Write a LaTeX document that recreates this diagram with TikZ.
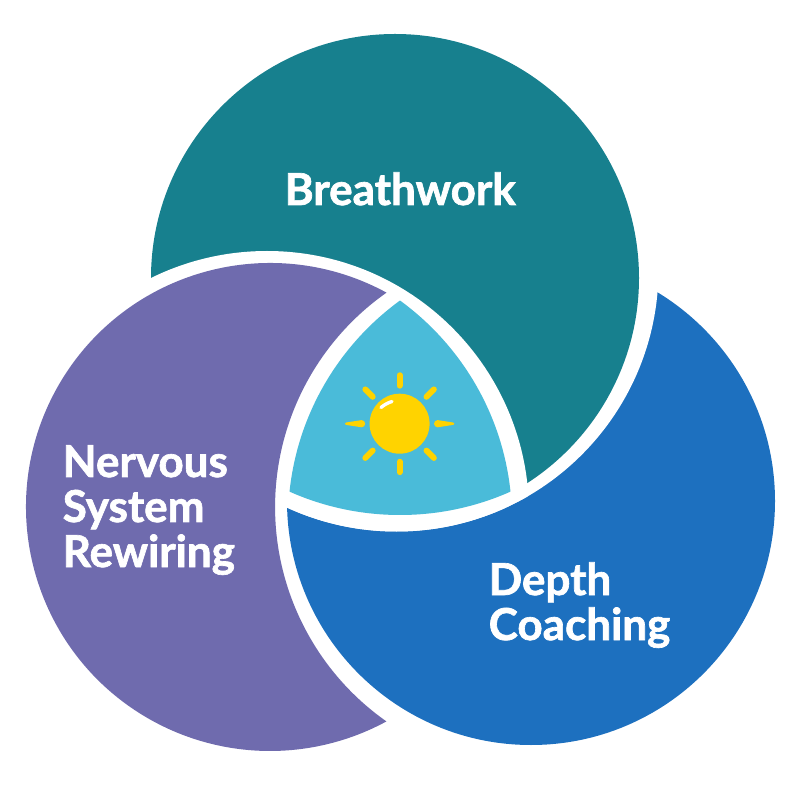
\documentclass[tikz,border=0pt]{standalone}
\usepackage{fontspec}
\setmainfont{Lato}[BoldFeatures={FakeBold=1.5}]
\usetikzlibrary{calc}
\definecolor{tealc}{HTML}{17808E}
\definecolor{purplec}{HTML}{6F6BAE}
\definecolor{bluec}{HTML}{1D70BF}
\definecolor{cyanc}{HTML}{4ABBD9}
\definecolor{sunc}{HTML}{FFD300}
\tikzset{
  circletext/.style = {text=white,font=\fontsize{33}{34}\selectfont\bfseries,inner sep=0pt,anchor=base west},
  sunray/.style = {draw=sunc,line width=4.4pt,line cap=round}
}
\newcommand{\Rcut}{262}
\newcommand{\Rmid}{244}
\newcommand{\Rin}{272}

\begin{document}
\begin{tikzpicture}[x=0.75pt,y=-0.75pt]
  \useasboundingbox (0,0) rectangle (800,791);
  \fill[white] (0,0) rectangle (800,791);
  \coordinate (teal) at (395,278);
  \coordinate (purple) at (270,507);
  \coordinate (blue) at (531,501);
  \coordinate (tealcut) at (396.5,269.5);
  \coordinate (purplecut) at (267,513);
  \coordinate (bluecut) at (537,507);
  \coordinate (sun) at (399.6,423.7);
  % blue under teal
  \fill[bluec] (blue) circle (\Rmid);
  \fill[white] (tealcut) circle (\Rcut);
  \fill[tealc] (teal) circle (\Rmid);
  \begin{scope}
    \clip (tealcut) circle (\Rcut);
    \fill[white] (purplecut) circle (\Rcut);
  \end{scope}
  % purple crescent goes over teal
  \fill[purplec] ($(purple)+(-61.5:\Rmid)$) arc (-61.5:-298.5:\Rmid) arc (125.1:234.9:\Rcut) -- cycle;
  % middle
  \begin{scope}
    \clip (400,243) circle (\Rin);
    \clip (240,520.5) circle (\Rin);
    \fill[cyanc] (560,520.5) circle (\Rin);
  \end{scope}
  % sun
  \fill[sunc] (sun) circle (30);
  \foreach \a in {45,90,135,225,270,315}
    \draw[sunray] ($(sun)+(\a:38)$) -- ($(sun)+(\a:48.5)$);
  \foreach \a in {0,180}
    \fill[sunc] ($(sun)+(\a:38)+(\a+90:3.6)$) arc (\a+90:\a+270:3.6) -- ($(sun)+(\a:53.5)+(\a-90:1.2)$)
      arc (\a-90:\a+90:1.2) -- cycle;
  \draw[white,line width=2.5pt,line cap=round] (381,407.5) to[bend left=10] (392,401.5);
  \node[circletext] (breathwork) at (284.5,205) {Breathwork};
  \node[circletext] (nervous) at (62.5,477) {Nervous};
  \node[circletext] (system) at (62.5,522) {System};
  \node[circletext] (rewiring) at (62.5,567) {Rewiring};
  \node[circletext] (depth) at (488.5,595) {Depth};
  \node[circletext] (coaching) at (488.5,640) {Coaching};
\end{tikzpicture}
\end{document}
